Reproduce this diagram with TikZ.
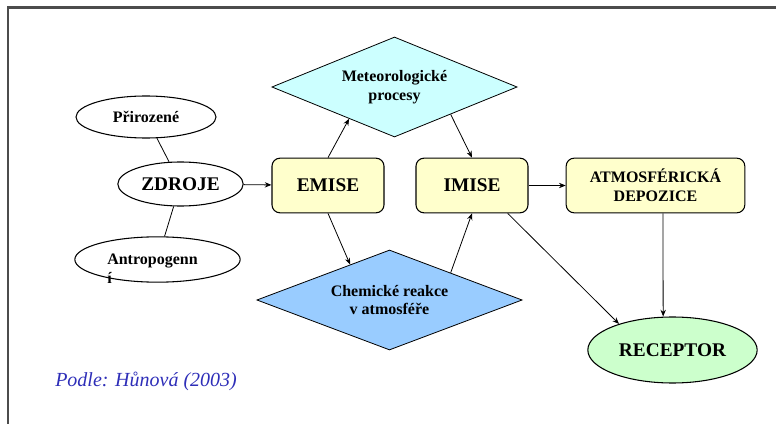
\documentclass[tikz,border=0pt]{standalone}
\usepackage{fontspec}
\setmainfont{Liberation Serif}
\usepackage{xcolor}
\usetikzlibrary{shapes.geometric,arrows.meta}
\definecolor{boxyellow}{HTML}{FFFFCC}
\definecolor{meteocyan}{HTML}{CCFFFF}
\definecolor{chemblue}{HTML}{99CCFF}
\definecolor{recgreen}{HTML}{CCFFCC}
\definecolor{podleblue}{HTML}{2E2EB8}
\begin{document}
\begin{tikzpicture}[x=0.75pt, y=-0.75pt,
    every node/.style={font=\bfseries\fontsize{12}{14}\selectfont},
    big/.style={font=\bfseries\fontsize{14.5}{17}\selectfont},
    oval/.style={ellipse, draw, line width=0.8pt, inner sep=0pt},
    stage/.style={rectangle, rounded corners=6pt, draw, line width=0.8pt, fill=boxyellow, inner sep=0pt, minimum width=84pt, minimum height=41pt},
    proc/.style={diamond, draw, line width=0.6pt, inner sep=0pt, align=center},
    link/.style={line width=0.6pt},
    arr/.style={line width=0.6pt, -{Stealth[length=5pt,width=4pt]}}]
    \useasboundingbox (0,0) rectangle (776,424);
    \draw[line width=1.6pt, black!70] (8,424) -- (8,7.5) -- (776,7.5);

    \node[oval, minimum width=105pt, minimum height=31.5pt] (prir) at (146,117) {P\v{r}irozen\'e};
    \node[oval, big, minimum width=94pt, minimum height=33pt] (zdroje) at (180.5,184) {ZDROJE};
    \node[oval, minimum width=124pt, minimum height=34pt] (antro) at (157.5,259.5) {};
    \node[align=left, anchor=north west, inner sep=0pt] (antrotxt) at (107,254) {Antropogenn\\\'{\i}};

    \node[stage, big] (emise) at (328,185.5) {EMISE};
    \node[stage, big] (imise) at (472,185.5) {IMISE};
    \node[stage, align=center, minimum width=134pt] (atmos) at (655.5,185.5) {ATMOSF\'ERICK\'A\\DEPOZICE};

    \node[proc, fill=meteocyan, aspect=2.45, minimum width=184pt, minimum height=75pt] (meteo) at (394.5,87) {Meteorologick\'e\\procesy};
    \node[proc, fill=chemblue, aspect=2.65, minimum width=199pt, minimum height=75pt] (chem) at (389.5,300) {Chemick\'e reakce\\v atmosf\'e\v{r}e};

    \node[oval, big, fill=recgreen, minimum width=127pt, minimum height=49.5pt] (receptor) at (672.5,350) {RECEPTOR};

    \node[anchor=base west, inner sep=0pt, font=\itshape\fontsize{15}{17}\selectfont, text=podleblue] (podle) at (55,387) {Podle: H\r{u}nov\'a (2003)};

    \draw[link] (prir) -- (zdroje);
    \draw[link] (zdroje) -- (antro);
    \draw[arr] (zdroje) -- (emise);
    \draw[arr] (emise.north) -- (meteo.-145);
    \draw[arr] (meteo.-26) -- (imise.north);
    \draw[arr] (emise.south) -- (chem.138);
    \draw[arr] (chem.24) -- (imise.south);
    \draw[arr] (imise) -- (atmos);
    \draw[arr] (imise.-38) -- (receptor.154);
    \draw[arr] ([xshift=5.6pt]atmos.south) -- ([xshift=-7pt]receptor.north);
\end{tikzpicture}
\end{document}
